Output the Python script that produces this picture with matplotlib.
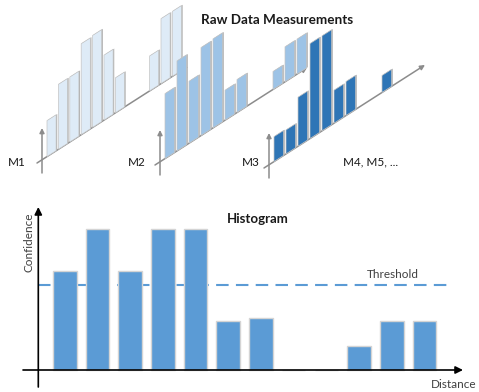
import matplotlib
matplotlib.use("Agg")
import matplotlib.pyplot as plt
from matplotlib.transforms import Affine2D
import numpy as np

W, H = 479, 392

# raw measurements: bin index and bar height (px above the slanted baseline)
m1_bins = [0, 1, 2, 3, 4, 5, 6, 9, 10, 11]
m1_vals = [36, 65, 65, 91, 92, 65, 35, 35, 65, 65]
m2_bins = [0, 1, 2, 3, 4, 5, 6, 9, 10, 11]
m2_vals = [65, 90, 62, 88, 89, 30, 33, 18, 35, 35]
m3_bins = [0, 1, 2, 3, 4, 5, 6, 9]
m3_vals = [25, 24, 49, 95, 95, 33, 34, 17]

# accumulated histogram
hist_bins = np.arange(12)
hist_vals = [0.70, 1.0, 0.70, 1.0, 1.0, 0.35, 0.37, 0, 0, 0.17, 0.35, 0.35]
threshold = 0.60

plt.rcParams['font.family'] = ['Lato', 'DejaVu Sans']
txt_col = '#1a1a1a'

fig = plt.figure(figsize=(W / 100, H / 100), dpi=100)
ax = fig.add_axes([0, 0, 1, 1])
ax.set_xlim(0, W)
ax.set_ylim(H, 0)
ax.set_autoscale_on(False)
ax.axis('off')

slope = 0.64
gray = '#8c8c8c'
# name, bins, values, origin x, origin y, pitch, line length, face colour
panels = [
    ('M1', m1_bins, m1_vals, 37, 163, 11.4, 151, '#deebf7'),
    ('M2', m2_bins, m2_vals, 155, 165, 12.0, 152, '#9dc3e6'),
    ('M3', m3_bins, m3_vals, 264, 168, 12.0, 161, '#2e75b6'),
]

for k, (name, bins, vals, ox, oy, pitch, length, face) in enumerate(panels):
    z = 10 * (k + 1)
    # skewed frame: x = bin index along the diagonal, y = height
    T = Affine2D.from_values(pitch, -slope * pitch, 0, -1, ox + 10, oy - slope * 10) + ax.transData
    ax.annotate('', xy=(ox + length, oy - slope * length), xytext=(ox, oy),
                arrowprops=dict(arrowstyle='-|>', color=gray, lw=1.1, mutation_scale=7,
                                shrinkA=0, shrinkB=0), zorder=z)
    ax.annotate('', xy=(ox + 5, oy - 35), xytext=(ox + 5, oy + 10),
                arrowprops=dict(arrowstyle='-|>', color=gray, lw=1.1, mutation_scale=7,
                                shrinkA=0, shrinkB=0), zorder=z)
    b = np.array(bins)
    ax.bar(b + 0.1, vals, width=0.8, align='edge', color='#b0b0b0', lw=0,
           transform=T, zorder=z + 2)
    ax.bar(b, vals, width=0.8, align='edge', color=face, edgecolor='#c4c4c4', lw=0.5,
           transform=T, zorder=z + 3)

ax.text(277, 20, 'Raw Data Measurements', ha='center', va='center', fontsize=9.7,
        fontweight='bold', color=txt_col)
for lbl, x in [('M1', 8), ('M2', 128), ('M3', 242), ('M4, M5, ...', 343)]:
    ax.text(x, 162, lbl, ha='left', va='center', fontsize=8.5, color=txt_col)

# histogram panel
x0, x1, y0, y1 = 23, 463, 207, 387
ax2 = fig.add_axes([x0 / W, (H - y1) / H, (x1 - x0) / W, (y1 - y0) / H])
ax2.set_xlim((x0 - 64.75) / 32.7, (x1 - 64.75) / 32.7)
ax2.set_ylim((370 - y1) / 141, (370 - y0) / 141)
ax2.axis('off')
ax2.patch.set_alpha(0)
yax = (38.3 - 64.75) / 32.7

ax2.plot([yax, (448 - 64.75) / 32.7], [threshold, threshold], color='#5b9bd5', lw=1.5,
         ls=(0, (6, 3.5)), zorder=1)
ax2.bar(hist_bins, hist_vals, width=0.72, color='#5b9bd5', edgecolor='#d4d4d4', lw=1, zorder=2)
xl, yl = ax2.get_xlim(), ax2.get_ylim()
ax2.annotate('', xy=(xl[1], 0), xytext=(xl[0], 0),
             arrowprops=dict(arrowstyle='-|>', color='black', lw=1.2, mutation_scale=11,
                             shrinkA=0, shrinkB=0), zorder=3)
ax2.annotate('', xy=(yax, yl[1]), xytext=(yax, yl[0]),
             arrowprops=dict(arrowstyle='-|>', color='black', lw=1.2, mutation_scale=11,
                             shrinkA=0, shrinkB=0), zorder=3)

ax.text(258, 219, 'Histogram', ha='center', va='center', fontsize=9.5, fontweight='bold',
        color=txt_col)
ax.text(367, 275, 'Threshold', ha='left', va='center', fontsize=8.5, color='#404040')
ax.text(29, 242, 'Confidence', ha='center', va='center', rotation=90, fontsize=8.5,
        color='#404040')
ax.text(477, 384, 'Distance', ha='right', va='center', fontsize=8.5, color='#404040')

fig.savefig('out.png', dpi=100)
